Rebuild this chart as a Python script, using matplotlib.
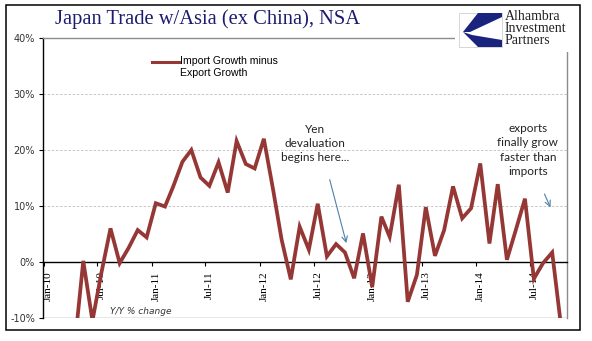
"""Japan trade with Asia ex China: import growth minus export growth, Y/Y %."""

import matplotlib

matplotlib.use("Agg")
import matplotlib.pyplot as plt
import matplotlib.dates as mdates
import matplotlib.transforms as mtransforms
from matplotlib.patches import Rectangle, Polygon
from matplotlib.lines import Line2D
from matplotlib.legend_handler import HandlerLine2D
from matplotlib.ticker import FuncFormatter
import pandas as pd

W, H = 592, 341
LINE_C = "#953735"
ARROW_C = "#4f81a8"

# monthly, Jan-10 .. Oct-14 (first months sit below the -10% floor)
growth_gap = [
    -22, -28, -20, -15.5, 0.2, -10.5, -2.0, 6.0, -0.2, 2.5, 5.7, 4.4,        # 2010
    10.5, 9.9, 13.5, 17.9, 20.0, 15.1, 13.6, 17.8, 12.4, 21.6, 17.5, 16.7,   # 2011
    22.0, 13.0, 4.0, -3.1, 6.3, 2.2, 10.4, 1.0, 3.2, 1.7, -2.9, 5.1,         # 2012
    -4.5, 8.1, 4.5, 13.8, -7.1, -2.3, 9.8, 1.1, 5.7, 13.5, 7.8, 9.6,         # 2013
    17.6, 3.3, 13.9, 0.4, 5.7, 11.3, -3.0, -0.2, 1.7, -11.5,                 # 2014
]
months = pd.date_range("2010-01-01", periods=len(growth_gap), freq="MS") + pd.Timedelta(days=14)
y_ticks = [-10, 0, 10, 20, 30, 40]


def px(x0, y0, x1, y1):
    # figure-pixel box (top-left origin) -> fig fraction rect
    return [x0 / W, 1 - y1 / H, (x1 - x0) / W, (y1 - y0) / H]


class FirstLineHandler(HandlerLine2D):
    # Excel pins the legend key to the first text line
    def create_artists(self, *args, **kw):
        arts = super().create_artists(*args, **kw)
        for a in arts:
            a.set_ydata([v + 3.6 for v in a.get_ydata()])
        return arts


fig = plt.figure(figsize=(W / 100, H / 100), dpi=100)
fig.patch.set_facecolor("white")
ax = fig.add_axes(px(43, 38, 567, 318))

ax.plot(months, growth_gap, color=LINE_C, lw=2.7, solid_joinstyle="miter", zorder=3)

ax.set_xlim(pd.Timestamp("2009-12-30"), pd.Timestamp("2014-11-04"))
ax.set_ylim(-10, 40)
ax.set_yticks(y_ticks)
ax.yaxis.set_major_formatter(FuncFormatter(lambda v, _: f"{v:.0f}%"))
for g in y_ticks[2:-1]:
    ax.axhline(g, color="#bdbdbd", lw=0.6, ls=(0, (3, 2)), zorder=1)
ax.axhline(-10, color="#8c8c8c", lw=1.0, zorder=2)

ax.xaxis.set_major_locator(mdates.MonthLocator(bymonth=[1, 7]))
ax.xaxis.set_major_formatter(mdates.DateFormatter("%b-%y"))
ax.spines["bottom"].set_position(("data", 0))
ax.spines["bottom"].set_linewidth(1.0)
ax.spines["left"].set_linewidth(1.0)
for s in ("top", "right"):
    ax.spines[s].set_color("#8c8c8c")
    ax.spines[s].set_linewidth(1.0)

ax.tick_params(axis="x", direction="out", length=2.8, width=0.8, pad=4,
               labelsize=8, labelrotation=90)
ax.tick_params(axis="y", direction="out", length=2.8, width=0.8, pad=3,
               labelsize=7, labelcolor="#333333")
shift = mtransforms.ScaledTranslation(3 / 72, 0, fig.dpi_scale_trans)
for lab in ax.get_xticklabels():
    lab.set_fontfamily("Liberation Serif")
    lab.set_transform(lab.get_transform() + shift)
for lab in ax.get_yticklabels():
    lab.set_fontfamily("DejaVu Sans")

ax.text(pd.Timestamp("2010-08-12"), -8.9, "Y/Y % change", fontsize=6.5,
        style="italic", family="DejaVu Sans", color="#333333", va="center")

key = Line2D([], [], color=LINE_C, lw=2.2)
ax.legend(handles=[key], labels=["Import Growth minus\nExport Growth"],
          handler_map={key: FirstLineHandler()},
          loc="upper left", bbox_to_anchor=(152 / W, 1 - 56 / H),
          bbox_transform=fig.transFigure, frameon=False,
          handlelength=2.6, handletextpad=0.1, borderpad=0, borderaxespad=0,
          labelspacing=0, prop={"family": "Liberation Sans", "size": 7.6})

ax.text(pd.Timestamp("2012-07-07"), 21.1, "Yen\ndevaluation\nbegins here...",
        family="Lato", fontsize=8.5, ha="center", va="center", linespacing=1.35,
        color="#222222")
ax.annotate("", xy=(pd.Timestamp("2012-10-22"), 2.9),
            xytext=(pd.Timestamp("2012-08-22"), 15.2),
            arrowprops=dict(arrowstyle="->", color=ARROW_C, lw=0.8, mutation_scale=10))
ax.text(pd.Timestamp("2014-06-25"), 20.0, "exports\nfinally grow\nfaster than\nimports",
        family="Lato", fontsize=8.5, ha="center", va="center", linespacing=1.35,
        color="#222222")
ax.annotate("", xy=(pd.Timestamp("2014-09-13"), 9.3),
            xytext=(pd.Timestamp("2014-08-16"), 12.6),
            arrowprops=dict(arrowstyle="->", color=ARROW_C, lw=0.8, mutation_scale=10))

fig.text(55 / W, 1 - 19 / H, "Japan Trade w/Asia (ex China), NSA", family="Liberation Serif",
         fontsize=14.8, color="#1c1c6e", va="center", ha="left")

# logo block
lax = fig.add_axes(px(455, 6, 579, 52), zorder=5)
lax.set_xlim(455, 579)
lax.set_ylim(52, 6)
lax.set_facecolor("white")
lax.set_xticks([])
lax.set_yticks([])
for s in lax.spines.values():
    s.set_visible(False)
lax.add_patch(Rectangle((459, 13), 43, 34, fill=False, ec="#d0d0d0", lw=0.6))
lax.add_patch(Polygon([(478, 13), (502, 13), (502, 17), (470, 32), (463, 32)],
                      closed=True, fc="#1a237e", ec="none"))
lax.add_patch(Polygon([(463, 32), (472, 35), (502, 40), (502, 47), (478, 47)],
                      closed=True, fc="#1a237e", ec="none"))
for i, word in enumerate(["Alhambra", "Investment", "Partners"]):
    lax.text(505, 17 + 12 * i, word, family="Liberation Serif", fontsize=10,
             color="#222222", va="center", ha="left")

fig.add_artist(Rectangle((6 / W, 1 - 330 / H), 574 / W, 325 / H, transform=fig.transFigure,
                         fill=False, ec="black", lw=1.1))

fig.savefig("out.png", dpi=100)
